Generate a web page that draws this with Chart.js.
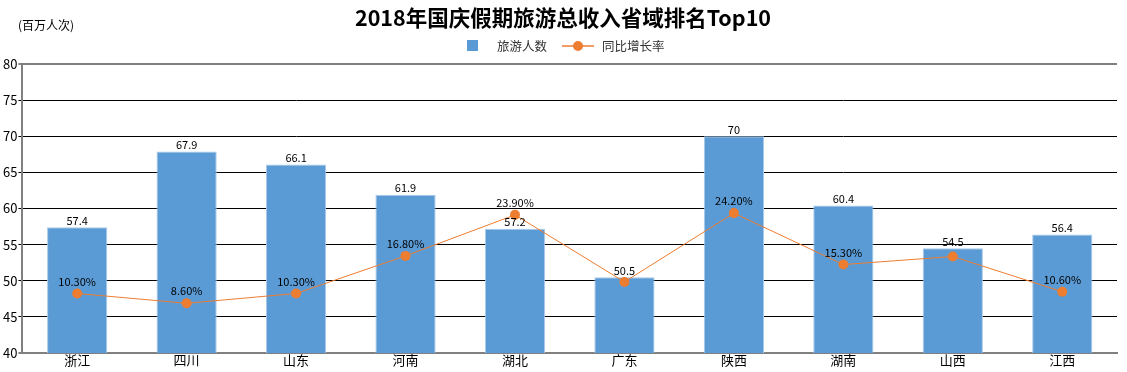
<!DOCTYPE html>
<html>
<head>
<meta charset="utf-8">
<script src="https://cdn.jsdelivr.net/npm/chart.js@4/dist/chart.umd.min.js"></script>
<style>
  html, body { margin: 0; padding: 0; background: #fff; }
  #wrap { width: 1127px; height: 372px; position: relative; }
</style>
</head>
<body>
<div id="wrap"><canvas id="chart"></canvas></div>
<script>
const provinces = ['浙江', '四川', '山东', '河南', '湖北', '广东', '陕西', '湖南', '山西', '江西'];
const visitors = [57.4, 67.9, 66.1, 61.9, 57.2, 50.5, 70, 60.4, 54.5, 56.4];
const growthRate = [10.3, 8.6, 10.3, 16.8, 23.9, 12.3, 24.2, 15.3, 16.7, 10.6];
const showRateLabel = [true, true, true, true, true, false, true, true, false, true];
const yTicks = [40, 45, 50, 55, 60, 65, 70, 75, 80];

const FONT = '"Noto Sans CJK SC", "Noto Sans", sans-serif';
const BLUE = '#5b9bd5';
const ORANGE = '#ed7d31';

// title, unit label, legend and value labels
const overlay = {
  id: 'overlay',
  afterDatasetsDraw(chart) {
    const ctx = chart.ctx;
    ctx.save();

    // value labels on bars
    ctx.fillStyle = '#000';
    ctx.textAlign = 'center';
    ctx.textBaseline = 'bottom';
    ctx.font = '11px ' + FONT;
    chart.getDatasetMeta(0).data.forEach((bar, i) => {
      ctx.fillText(String(visitors[i]), bar.x, bar.y - 1);
    });

    // rate labels
    ctx.textBaseline = 'middle';
    chart.getDatasetMeta(1).data.forEach((pt, i) => {
      if (!showRateLabel[i]) return;
      ctx.fillText(growthRate[i].toFixed(2) + '%', pt.x, pt.y - 12);
    });

    // title
    ctx.font = 'bold 21.5px ' + FONT;
    ctx.fillText('2018年国庆假期旅游总收入省域排名Top10', 563, 18);

    // unit
    ctx.font = '12px ' + FONT;
    ctx.textAlign = 'left';
    ctx.fillText('(百万人次)', 18, 25);

    // legend
    ctx.fillStyle = BLUE;
    ctx.fillRect(467, 40, 11, 11);
    ctx.fillStyle = '#333';
    ctx.font = '12.5px ' + FONT;
    ctx.fillText('旅游人数', 497, 46);
    ctx.strokeStyle = ORANGE;
    ctx.lineWidth = 1.5;
    ctx.beginPath();
    ctx.moveTo(562, 46);
    ctx.lineTo(594, 46);
    ctx.stroke();
    ctx.fillStyle = ORANGE;
    ctx.beginPath();
    ctx.arc(578, 46, 5, 0, Math.PI * 2);
    ctx.fill();
    ctx.fillStyle = '#333';
    ctx.fillText('同比增长率', 602, 46);

    ctx.restore();
  }
};

new Chart(document.getElementById('chart'), {
  type: 'bar',
  data: {
    labels: provinces,
    datasets: [
      {
        label: '旅游人数',
        data: visitors,
        backgroundColor: BLUE,
        borderColor: '#a9c9ea',
        borderWidth: 1,
        barPercentage: 0.55,
        categoryPercentage: 1,
        yAxisID: 'y',
        order: 2
      },
      {
        type: 'line',
        label: '同比增长率',
        data: growthRate,
        borderColor: ORANGE,
        backgroundColor: ORANGE,
        borderWidth: 1,
        pointRadius: 5,
        pointHoverRadius: 5,
        pointBorderWidth: 0,
        tension: 0,
        yAxisID: 'y2',
        order: 1
      }
    ]
  },
  options: {
    responsive: true,
    maintainAspectRatio: false,
    animation: false,
    layout: { padding: { top: 64, right: 10, left: 2, bottom: 4 } },
    plugins: {
      legend: { display: false },
      title: { display: false },
      tooltip: { enabled: false }
    },
    scales: {
      x: {
        grid: { display: false, drawTicks: false, tickLength: 0 },
        border: { display: true, color: '#808080', width: 2 },
        ticks: { color: '#000', font: { size: 13, family: FONT, lineHeight: 1 }, padding: 1 }
      },
      y: {
        min: 40,
        max: 80,
        afterBuildTicks: axis => { axis.ticks = yTicks.map(v => ({ value: v })); },
        grid: {
          color: c => (c.tick.value === 80 || c.tick.value === 40) ? '#808080' : '#000',
          lineWidth: c => (c.tick.value === 80 || c.tick.value === 40) ? 2 : 1,
          tickLength: 4
        },
        border: { display: true, color: '#808080', width: 2 },
        ticks: { color: '#000', font: { size: 13, family: FONT }, padding: 1 }
      },
      y2: {
        display: false,
        min: 0,
        max: 50
      }
    }
  },
  plugins: [overlay]
});
</script>
</body>
</html>
